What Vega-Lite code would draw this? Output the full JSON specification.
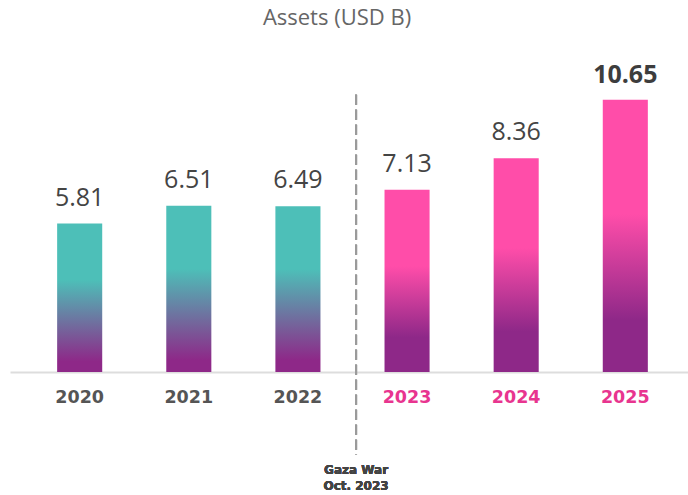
{
  "$schema": "https://vega.github.io/schema/vega-lite/v6.json",
  "width": 678,
  "height": 322,
  "autosize": {"type": "none"},
  "padding": {"left": 10, "top": 50, "right": 0, "bottom": 123},
  "background": "white",
  "title": {"text": "Assets (USD B)", "fontSize": 22, "font": "Open Sans", "fontWeight": "normal", "color": "#666666", "offset": 20, "dx": -12},
  "config": {"view": {"stroke": null}, "font": "Open Sans"},
  "data": {"values": [
    {"year": "2020", "assets": 5.81, "period": "pre"},
    {"year": "2021", "assets": 6.51, "period": "pre"},
    {"year": "2022", "assets": 6.49, "period": "pre"},
    {"year": "2023", "assets": 7.13, "period": "post"},
    {"year": "2024", "assets": 8.36, "period": "post"},
    {"year": "2025", "assets": 10.65, "period": "post"}
  ]},
  "encoding": {
    "x": {"field": "year", "type": "nominal", "sort": null,
      "scale": {"paddingInner": 0.587, "paddingOuter": 0.4, "align": 0.54},
      "axis": {"title": null, "labelAngle": 0, "ticks": false, "domainColor": "#dddddd", "domainWidth": 2,
        "labelFontSize": 17.5, "labelFontWeight": "bold", "labelPadding": 16, "labelFont": "DejaVu Sans",
        "labelColor": {"expr": "toNumber(datum.value) >= 2023 ? '#E8358F' : '#555555'"}}}
  },
  "layer": [
    {
      "transform": [{"filter": "datum.period == 'pre'"}],
      "mark": {"type": "bar", "color": {"gradient": "linear", "x1": 0, "y1": 0, "x2": 0, "y2": 1,
        "stops": [{"offset": 0, "color": "#4DBFB8"}, {"offset": 0.38, "color": "#4DBFB8"}, {"offset": 0.93, "color": "#8E2888"}, {"offset": 1, "color": "#8E2888"}]}},
      "encoding": {"y": {"field": "assets", "type": "quantitative", "scale": {"domain": [0, 12.6], "nice": false}, "axis": null}}
    },
    {
      "transform": [{"filter": "datum.period == 'post'"}],
      "mark": {"type": "bar", "color": {"gradient": "linear", "x1": 0, "y1": 0, "x2": 0, "y2": 1,
        "stops": [{"offset": 0, "color": "#FF4DA9"}, {"offset": 0.42, "color": "#FF4DA9"}, {"offset": 0.81, "color": "#8E2888"}, {"offset": 1, "color": "#8E2888"}]}},
      "encoding": {"y": {"field": "assets", "type": "quantitative", "scale": {"domain": [0, 12.6], "nice": false}, "axis": null}}
    },
    {
      "transform": [{"filter": "datum.year != '2025'"}],
      "mark": {"type": "text", "baseline": "alphabetic", "dy": -18, "fontSize": 25, "fontWeight": "normal", "color": "#444444", "font": "Open Sans"},
      "encoding": {
        "y": {"field": "assets", "type": "quantitative", "scale": {"domain": [0, 12.6], "nice": false}, "axis": null},
        "text": {"field": "assets", "type": "quantitative", "format": ".2f"}
      }
    },
    {
      "transform": [{"filter": "datum.year == '2025'"}],
      "mark": {"type": "text", "baseline": "alphabetic", "dy": -17, "fontSize": 25, "fontWeight": "bold", "color": "#3d3d3d", "font": "Open Sans"},
      "encoding": {
        "y": {"field": "assets", "type": "quantitative", "scale": {"domain": [0, 12.6], "nice": false}, "axis": null},
        "text": {"field": "assets", "type": "quantitative", "format": ".2f"}
      }
    },
    {
      "mark": {"type": "rule", "strokeDash": [10, 5], "strokeWidth": 2, "color": "#9a9a9a", "xOffset": -51},
      "encoding": {
        "x": {"datum": "2023", "type": "nominal"},
        "y": {"datum": 10.85, "type": "quantitative"},
        "y2": {"datum": -3.25}
      }
    },
    {
      "mark": {"type": "text", "xOffset": -51, "baseline": "alphabetic", "fontSize": 12, "fontWeight": "bold", "color": "#444444", "lineHeight": 16, "font": "DejaVu Sans"},
      "encoding": {
        "x": {"datum": "2023", "type": "nominal"},
        "y": {"datum": -4.0, "type": "quantitative"},
        "text": {"value": ["Gaza War", "Oct. 2023"]}
      }
    }
  ]
}
